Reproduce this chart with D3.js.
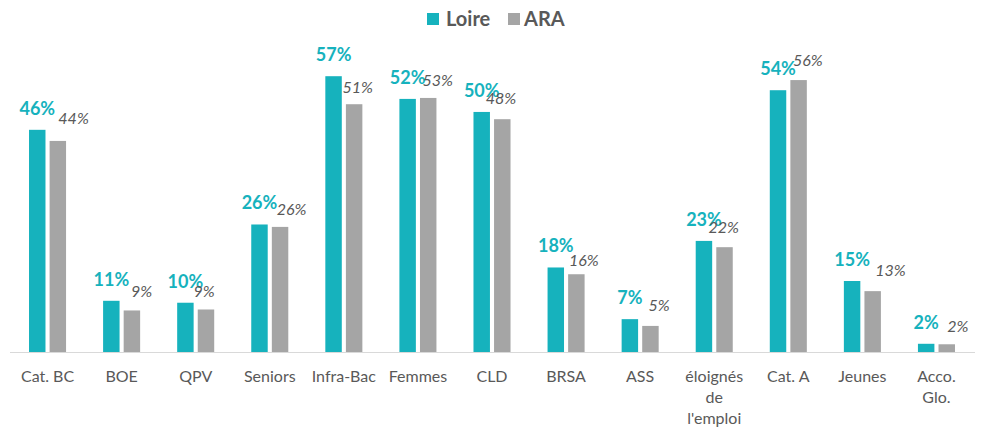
<!DOCTYPE html>
<html><head><meta charset="utf-8">
<script src="https://cdn.jsdelivr.net/npm/d3@7"></script>
<style>body{margin:0;background:#fff}svg{display:block}</style>
</head><body>
<svg id="c" width="982" height="430"></svg>
<script>
const categories = ["Cat. BC","BOE","QPV","Seniors","Infra-Bac","Femmes","CLD","BRSA","ASS","éloignés de l'emploi","Cat. A","Jeunes","Acco. Glo."];
const categoryLines = [["Cat. BC"],["BOE"],["QPV"],["Seniors"],["Infra-Bac"],["Femmes"],["CLD"],["BRSA"],["ASS"],["éloignés","de","l'emploi"],["Cat. A"],["Jeunes"],["Acco.","Glo."]];
const seriesNames = ["Loire","ARA"];
const loire = [46.0, 10.6, 10.2, 26.4, 57.1, 52.4, 49.7, 17.5, 6.8, 23.0, 54.2, 14.7, 1.7];
const ara   = [43.7, 8.6, 8.8, 25.9, 51.3, 52.6, 48.2, 16.1, 5.4, 21.7, 56.3, 12.6, 1.6];

// layout: manual nudges of the ARA value labels (as in the original chart)
const araLabelShift = [0.5, -1, -12.5, -3.3, -11.7, -5.7, -16.5, -7.3, -2, -16, -5.7, 2.5, 0.5];
const araLabelGap   = [17, 13.4, 12.6, 11.7, 11.7, 11.7, 14.7, 8.3, 15, 14, 14.3, 15.3, 12.7];

const colors = {Loire:"#16B2BD", ARA:"#A5A5A5"};
const FONT = "Lato";
const svg = d3.select("#c");
const base = 352;
const y = d3.scaleLinear().domain([0,60]).range([base, base-60*4.83]);
const x = d3.scaleBand().domain(categories).range([10.5,973.5]).paddingInner(0.5).paddingOuter(0.25);
const xs = d3.scaleBand().domain(seriesNames).range([0,x.bandwidth()]).paddingInner(0.2);

// axis line
svg.append("line").attr("x1",10).attr("x2",975).attr("y1",base+0.5).attr("y2",base+0.5)
  .attr("stroke","#D9D9D9").attr("stroke-width",1);

const data = categories.map((c,i)=>({c, i, Loire:loire[i], ARA:ara[i], lines:categoryLines[i]}));
const g = svg.append("g");
const grp = g.selectAll("g.grp").data(data).join("g").attr("class","grp")
  .attr("transform",d=>`translate(${x(d.c)},0)`);

seriesNames.forEach(s=>{
  grp.append("rect").attr("x",xs(s)).attr("width",xs.bandwidth())
    .attr("y",d=>y(d[s])).attr("height",d=>base-y(d[s])).attr("fill",colors[s]);
});
const fmt = v=>Math.round(v)+"%";
grp.append("text").attr("x",xs("Loire")+xs.bandwidth()/2).attr("y",d=>y(d.Loire)-15)
  .attr("text-anchor","middle").attr("font-family",FONT).attr("font-weight","bold")
  .attr("font-size",18).attr("fill",colors.Loire).text(d=>fmt(d.Loire));
grp.append("text").attr("x",d=>xs("ARA")+xs.bandwidth()/2+araLabelShift[d.i]).attr("y",d=>y(d.ARA)-araLabelGap[d.i])
  .attr("text-anchor","start").attr("font-family",FONT).attr("font-style","italic")
  .attr("font-size",16).attr("fill","#595959").text(d=>fmt(d.ARA));

// category labels
const lab = grp.append("text").attr("text-anchor","middle").attr("font-family",FONT)
  .attr("font-size",16).attr("fill","#595959");
lab.selectAll("tspan").data(d=>d.lines).join("tspan")
  .attr("x",x.bandwidth()/2).attr("y",(d,i)=>382+i*21).text(d=>d);

// legend
const leg = svg.append("g");
const legItems = [{n:"Loire",x:427,tx:446},{n:"ARA",x:508,tx:524}];
legItems.forEach(it=>{
  leg.append("rect").attr("x",it.x).attr("y",13).attr("width",12).attr("height",12).attr("fill",colors[it.n]);
  leg.append("text").attr("x",it.tx).attr("y",26).attr("font-family",FONT).attr("font-weight","bold")
    .attr("font-size",20).attr("fill","#595959").text(it.n);
});
</script>
</body></html>
